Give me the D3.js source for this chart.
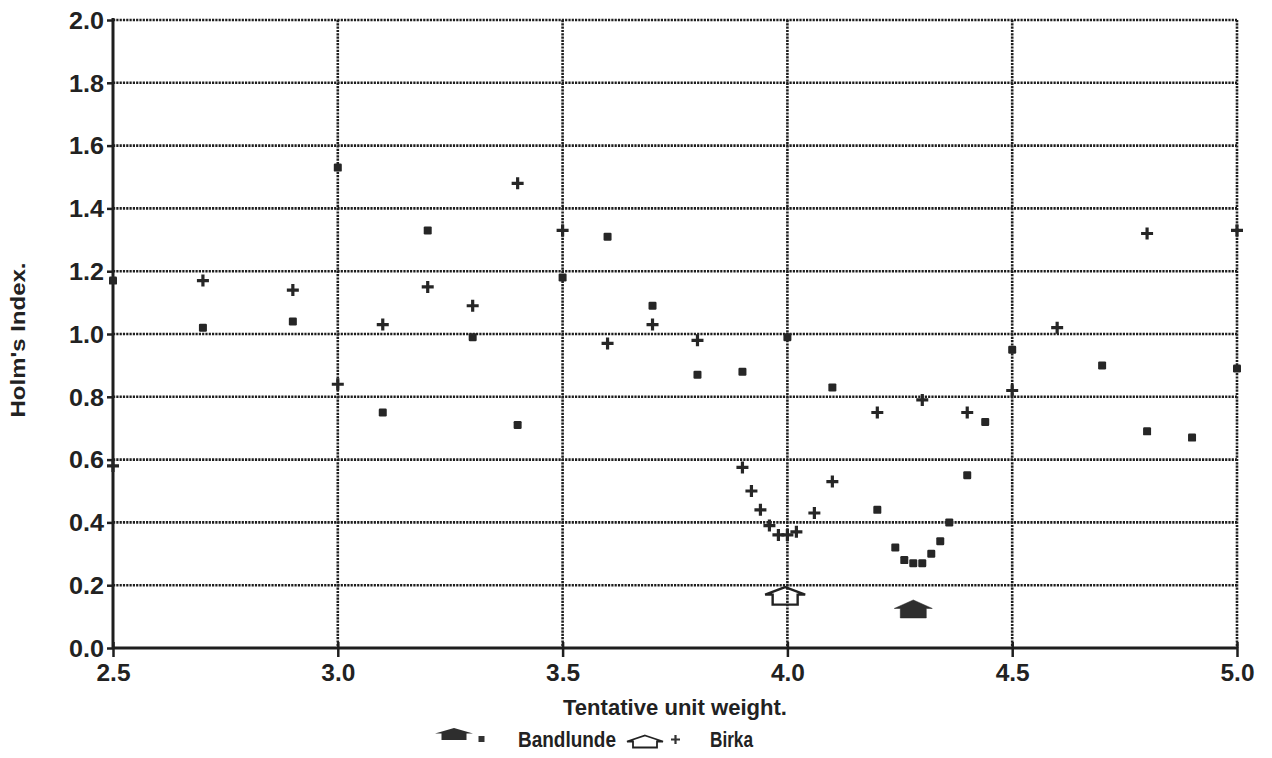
<!DOCTYPE html>
<html>
<head>
<meta charset="utf-8">
<script src="https://cdn.jsdelivr.net/npm/d3@7"></script>
<style>
  html, body { margin: 0; padding: 0; background: #fff; }
  svg { display: block; }
  text { font-family: "Liberation Sans", Arial, sans-serif; font-weight: bold; fill: #222; }
</style>
</head>
<body>
<svg id="chart" width="1272" height="758"></svg>
<script>
// ---- Data ----
const bandlundeX = [2.5, 2.7, 2.9, 3.0, 3.1, 3.2, 3.3, 3.4, 3.5, 3.6, 3.7, 3.8, 3.9, 4.0, 4.1, 4.2, 4.24, 4.26, 4.28, 4.30, 4.32, 4.34, 4.36, 4.4, 4.44, 4.5, 4.7, 4.8, 4.9, 5.0];
const bandlundeY = [1.17, 1.02, 1.04, 1.53, 0.75, 1.33, 0.99, 0.71, 1.18, 1.31, 1.09, 0.87, 0.88, 0.99, 0.83, 0.44, 0.32, 0.28, 0.27, 0.27, 0.30, 0.34, 0.40, 0.55, 0.72, 0.95, 0.90, 0.69, 0.67, 0.89];
const birkaX = [2.5, 2.7, 2.9, 3.0, 3.1, 3.2, 3.3, 3.4, 3.5, 3.6, 3.7, 3.8, 3.9, 3.92, 3.94, 3.96, 3.98, 4.0, 4.02, 4.06, 4.1, 4.2, 4.3, 4.4, 4.5, 4.6, 4.8, 5.0];
const birkaY = [0.58, 1.17, 1.14, 0.84, 1.03, 1.15, 1.09, 1.48, 1.33, 0.97, 1.03, 0.98, 0.575, 0.50, 0.44, 0.39, 0.36, 0.36, 0.37, 0.43, 0.53, 0.75, 0.79, 0.75, 0.82, 1.02, 1.32, 1.33];
// arrows marking the minima
const arrowSeries = ["Bandlunde", "Birka"];
const arrowX = [4.28, 3.995];
const arrowY = [0.153, 0.194];
const xTicks = [2.5, 3.0, 3.5, 4.0, 4.5, 5.0];
const yTicks = [0.0, 0.2, 0.4, 0.6, 0.8, 1.0, 1.2, 1.4, 1.6, 1.8, 2.0];
const xTitle = "Tentative unit weight.";
const yTitle = "Holm's Index.";
const legendLabels = ["Bandlunde", "Birka"];

// ---- Layout ----
const svg = d3.select("#chart");
const mLeft = 113, mRight = 1237, mTop = 20, mBottom = 648;
const x = d3.scaleLinear().domain([2.5, 5.0]).range([mLeft, mRight]);
const y = d3.scaleLinear().domain([0, 2.0]).range([mBottom, mTop]);
const ink = "#1e1e1e";

// grid (dotted)
const grid = svg.append("g");
grid.selectAll("line.h").data(yTicks.filter(d => d > 0)).enter().append("line")
  .attr("x1", mLeft).attr("x2", mRight)
  .attr("y1", d => y(d)).attr("y2", d => y(d))
  .attr("stroke", ink).attr("stroke-width", 2.6).attr("stroke-dasharray", "2.2,1.1");
grid.selectAll("line.v").data(xTicks.filter(d => d > 2.5)).enter().append("line")
  .attr("y1", mTop).attr("y2", mBottom)
  .attr("x1", d => x(d)).attr("x2", d => x(d))
  .attr("stroke", ink).attr("stroke-width", 2.6).attr("stroke-dasharray", "2.2,1.1");

// axes
const yAxis = d3.axisLeft(y).tickValues(yTicks).tickFormat(d3.format(".1f")).tickSize(6).tickPadding(3);
const gy = svg.append("g").attr("transform", `translate(${mLeft},0)`).call(yAxis);
gy.select(".domain").attr("stroke", ink).attr("stroke-width", 3).attr("d", `M0,${mTop - 2}V${mBottom}`);
gy.selectAll(".tick line").attr("stroke", ink).attr("stroke-width", 2.5);
gy.selectAll(".tick text").attr("font-size", 23).attr("fill", "#222").attr("textLength", 35)
  .attr("lengthAdjust", "spacingAndGlyphs").attr("dy", "0.36em").attr("font-family", "Liberation Sans, Arial, sans-serif").attr("font-weight", "bold");

const xAxis = d3.axisBottom(x).tickValues(xTicks).tickFormat(d3.format(".1f")).tickSize(9).tickPadding(8);
const gx = svg.append("g").attr("transform", `translate(0,${mBottom})`).call(xAxis);
gx.select(".domain").attr("stroke", ink).attr("stroke-width", 3).attr("d", `M${mLeft},0H${mRight}`);
gx.selectAll(".tick line").attr("stroke", ink).attr("stroke-width", 2.5).attr("y1", -6);
gx.selectAll(".tick text").attr("font-size", 23).attr("fill", "#222").attr("textLength", 34)
  .attr("lengthAdjust", "spacingAndGlyphs").attr("font-family", "Liberation Sans, Arial, sans-serif").attr("font-weight", "bold");

// axis titles
svg.append("text").attr("x", 675).attr("y", 715)
  .attr("text-anchor", "middle").attr("font-size", 22)
  .attr("textLength", 224).attr("lengthAdjust", "spacingAndGlyphs").text(xTitle);
svg.append("text").attr("transform", "translate(25,340) rotate(-90)")
  .attr("text-anchor", "middle").attr("font-size", 20)
  .attr("textLength", 155).attr("lengthAdjust", "spacingAndGlyphs").text(yTitle);

// Bandlunde squares
const band = bandlundeX.map((d, i) => ({x: d, y: bandlundeY[i]}));
svg.append("g").selectAll("rect").data(band).enter().append("rect")
  .attr("x", d => x(d.x) - 4).attr("y", d => y(d.y) - 4)
  .attr("width", 8).attr("height", 8).attr("rx", 1.2)
  .attr("fill", "#262626");

// Birka crosses
const birka = birkaX.map((d, i) => ({x: d, y: birkaY[i]}));
const plus = (s) => `M${-s},0H${s}M0,${-s}V${s}`;
svg.append("g").selectAll("path").data(birka).enter().append("path")
  .attr("transform", d => `translate(${x(d.x)},${y(d.y)})`)
  .attr("d", plus(6))
  .attr("stroke", "#262626").attr("stroke-width", 3.2).attr("fill", "none");

// house-shaped arrows
function house(rw, bw, hr, h) {
  return `M0,0L${rw},${hr}L${bw},${hr}L${bw},${h}L${-bw},${h}L${-bw},${hr}L${-rw},${hr}Z`;
}
const arrows = arrowSeries.map((s, i) => ({s, x: arrowX[i], y: arrowY[i]}));
svg.append("g").selectAll("path").data(arrows).enter().append("path")
  .attr("transform", d => `translate(${x(d.x)},${y(d.y)})`)
  .attr("d", d => d.s === "Bandlunde" ? house(19, 13, 8.5, 18) : house(20, 12.5, 7.5, 17.5))
  .attr("fill", d => d.s === "Bandlunde" ? "#2e2e2e" : "none")
  .attr("stroke", "#222").attr("stroke-width", d => d.s === "Bandlunde" ? 0.5 : 2.4)
  .attr("stroke-linejoin", "miter");

// legend
const lg = svg.append("g");
lg.append("path").attr("transform", "translate(454,728)").attr("d", house(19, 12.5, 5.5, 12)).attr("fill", "#2e2e2e");
lg.append("rect").attr("x", 478.5).attr("y", 736).attr("width", 6).attr("height", 6).attr("fill", "#333");
lg.append("text").attr("x", 518).attr("y", 747).attr("font-size", 22)
  .attr("textLength", 98).attr("lengthAdjust", "spacingAndGlyphs").text(legendLabels[0]);
lg.append("path").attr("transform", "translate(645,735.5)").attr("d", house(18, 12, 6, 12))
  .attr("fill", "none").attr("stroke", "#222").attr("stroke-width", 1.8);
lg.append("path").attr("transform", "translate(675.5,739.5)").attr("d", plus(4.5))
  .attr("stroke", "#333").attr("stroke-width", 2.2).attr("fill", "none");
lg.append("text").attr("x", 710).attr("y", 747).attr("font-size", 22)
  .attr("textLength", 43).attr("lengthAdjust", "spacingAndGlyphs").text(legendLabels[1]);
</script>
</body>
</html>
